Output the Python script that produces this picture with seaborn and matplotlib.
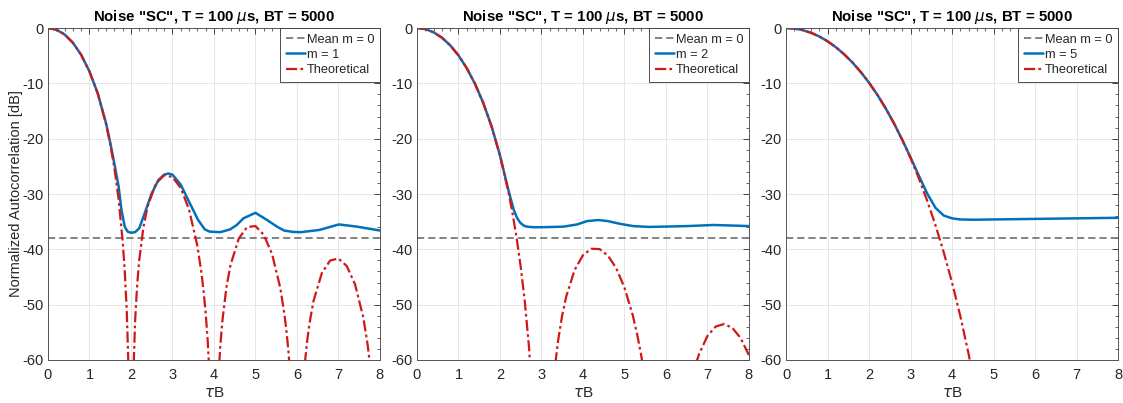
import matplotlib
matplotlib.use("Agg")
import matplotlib.pyplot as plt
import seaborn as sns
import numpy as np
from matplotlib.ticker import AutoMinorLocator, MultipleLocator

# ---------------- data ----------------
titles = ['Noise "SC", T = 100 $\\mu$s, BT = 5000'] * 3
m_labels = ["m = 1", "m = 2", "m = 5"]
mean_label = "Mean m = 0"
theo_label = "Theoretical"

mean_x = [0.0, 8.0]
mean_y = [-38.0, -38.0]

# panel 1 : m = 1
th1_x = [0, 0.2, 0.4, 0.6, 0.8, 1.0, 1.2, 1.4, 1.5, 1.6, 1.7, 1.8, 1.85, 1.9, 1.95, 2.0,
         2.05, 2.1, 2.15, 2.2, 2.3, 2.4, 2.6, 2.8, 3.0, 3.2, 3.4, 3.6, 3.7, 3.75, 3.8, 3.85,
         3.9, 4.0, 4.1, 4.15, 4.2, 4.3, 4.4, 4.6, 4.8, 5.0, 5.2, 5.4, 5.6, 5.7, 5.75, 5.8,
         5.9, 6.0, 6.1, 6.2, 6.25, 6.3, 6.4, 6.6, 6.8, 7.0, 7.2, 7.4, 7.6, 7.7, 7.75, 7.8,
         7.9, 8.0]
th1_y = [0, -0.29, -1.16, -2.65, -4.84, -7.85, -11.88, -17.37, -20.91, -25.24, -30.78,
         -38.46, -43.80, -51.22, -63.66, -90, -64.53, -52.96, -46.41, -41.94, -36.03,
         -32.28, -28.13, -26.60, -26.93, -28.92, -32.79, -39.33, -44.29, -47.49, -51.44,
         -56.54, -63.71, -90, -64.58, -57.84, -53.18, -46.90, -42.81, -38.04, -35.97,
         -35.80, -37.36, -40.82, -47.00, -51.80, -54.92, -58.78, -70.9, -90, -71.5,
         -59.94, -56.37, -53.54, -49.32, -44.31, -42.02, -41.65, -43.01, -46.30, -52.31,
         -57.02, -60.10, -63.93, -75.98, -90]
b1_x = [0, 0.2, 0.4, 0.6, 0.8, 1.0, 1.2, 1.4, 1.5, 1.6, 1.7, 1.77, 1.85, 1.92, 2.0, 2.1,
        2.2, 2.33, 2.5, 2.66, 2.8, 2.9, 3.0, 3.2, 3.4, 3.62, 3.78, 3.9, 4.15, 4.39, 4.55,
        4.71, 5.0, 5.28, 5.52, 5.69, 5.9, 6.09, 6.54, 7.01, 7.45, 8.0]
b1_y = [0, -0.29, -1.16, -2.65, -4.84, -7.85, -11.8, -17.2, -20.7, -24.5, -28.5, -32.8,
        -35.9, -36.8, -37.0, -36.9, -36.2, -33.5, -29.9, -27.5, -26.5, -26.3, -26.5,
        -28.3, -31.4, -34.7, -36.4, -36.8, -36.9, -36.4, -35.6, -34.4, -33.4, -34.7,
        -35.9, -36.6, -36.85, -36.9, -36.5, -35.5, -35.9, -36.6]

# panel 2 : m = 2
th2_x = [0, 0.2, 0.4, 0.6, 0.8, 1.0, 1.2, 1.4, 1.6, 1.8, 2.0, 2.2, 2.3, 2.4, 2.5, 2.6,
         2.7, 2.8, 2.9, 3.0, 3.1, 3.2, 3.3, 3.4, 3.5, 3.6, 3.8, 4.0, 4.2, 4.4, 4.6, 4.8,
         5.0, 5.2, 5.3, 5.4, 5.5, 5.6, 5.8, 6.0, 6.2, 6.4, 6.6, 6.7, 6.8, 7.0, 7.2, 7.4,
         7.6, 7.8, 8.0]
th2_y = [0, -0.19, -0.77, -1.74, -3.12, -4.95, -7.26, -10.11, -13.59, -17.83, -23.01,
         -29.48, -33.37, -37.86, -43.14, -49.54, -57.68, -68.96, -87.8, -100, -89.5,
         -72.44, -62.91, -56.53, -51.91, -48.43, -43.72, -41.07, -39.90, -39.95, -41.11,
         -43.38, -46.89, -51.90, -55.13, -58.99, -63.69, -69.53, -87.9, -100, -89.7,
         -73.01, -64.22, -61.24, -58.89, -55.66, -53.95, -53.50, -54.19, -56.04, -59.14]
b2_x = [0, 0.2, 0.4, 0.6, 0.8, 1.0, 1.2, 1.4, 1.6, 1.8, 2.0, 2.2, 2.33, 2.41, 2.49,
        2.57, 2.65, 2.8, 3.0, 3.3, 3.53, 3.86, 4.1, 4.37, 4.6, 4.9, 5.21, 5.6, 5.93, 6.5,
        7.14, 7.6, 8.0]
b2_y = [0, -0.19, -0.77, -1.74, -3.12, -4.95, -7.26, -10.11, -13.59, -17.83, -23.0,
        -29.2, -32.8, -34.3, -35.2, -35.7, -35.9, -36.0, -36.0, -35.95, -35.9, -35.5,
        -34.9, -34.7, -34.9, -35.4, -35.8, -35.95, -35.9, -35.8, -35.6, -35.7, -35.8]

# panel 3 : m = 5
th3_x = [0, 0.2, 0.4, 0.6, 0.8, 1.0, 1.2, 1.4, 1.6, 1.8, 2.0, 2.2, 2.4, 2.6, 2.8, 3.0,
         3.2, 3.4, 3.6, 3.8, 4.0, 4.2, 4.4, 4.6, 4.8]
th3_y = [0, -0.095, -0.38, -0.86, -1.53, -2.40, -3.48, -4.75, -6.24, -7.96, -9.90,
         -12.08, -14.52, -17.23, -20.22, -23.53, -27.18, -31.21, -35.65, -40.57, -46.02,
         -52.12, -58.96, -66.75, -75.7]
b3_x = [0, 0.2, 0.4, 0.6, 0.8, 1.0, 1.2, 1.4, 1.6, 1.8, 2.0, 2.2, 2.4, 2.6, 2.8, 3.0,
        3.2, 3.4, 3.6, 3.8, 4.0, 4.2, 4.5, 5.0, 6.0, 7.0, 8.0]
b3_y = [0, -0.095, -0.38, -0.86, -1.53, -2.40, -3.48, -4.75, -6.24, -7.96, -9.90,
        -12.08, -14.52, -17.23, -20.22, -23.4, -26.7, -29.9, -32.5, -33.9, -34.4, -34.6,
        -34.65, -34.6, -34.5, -34.4, -34.3]

x_ticks = [0, 1, 2, 3, 4, 5, 6, 7, 8]
y_ticks = [0, -10, -20, -30, -40, -50, -60]

panels = [(th1_x, th1_y, b1_x, b1_y), (th2_x, th2_y, b2_x, b2_y), (th3_x, th3_y, b3_x, b3_y)]

# ---------------- style ----------------
sns.set_theme(style="whitegrid")
plt.rcParams["font.family"] = ["Liberation Sans", "DejaVu Sans"]
plt.rcParams["axes.unicode_minus"] = False
plt.rcParams["mathtext.fontset"] = "dejavusans"

BLUE = "#0072BD"
RED = "#D01818"
GRAY = "#7a7a7a"
AXC = "#262626"

fig = plt.figure(figsize=(11.23, 4.03), dpi=100)
lefts = [0.0427, 0.3713, 0.7000]
for i, (tx, ty, bx, by) in enumerate(panels):
    ax = fig.add_axes([lefts[i], 0.1067, 0.2956, 0.8238])
    sns.lineplot(x=mean_x, y=mean_y, ax=ax, color=GRAY, linestyle=(0, (4, 2.2)),
                 linewidth=1.3, label=mean_label, estimator=None, sort=False)
    sns.lineplot(x=bx, y=by, ax=ax, color=BLUE, linewidth=1.8, label=m_labels[i],
                 estimator=None, sort=False)
    sns.lineplot(x=tx, y=ty, ax=ax, color=RED, linestyle=(0, (5, 1.5, 1.2, 1.5)),
                 linewidth=1.6, label=theo_label, estimator=None, sort=False)
    ax.set_xlim(0, 8)
    ax.set_ylim(-60, 0)
    ax.set_xticks(x_ticks)
    ax.set_yticks(y_ticks)
    ax.xaxis.set_minor_locator(MultipleLocator(0.2))
    ax.yaxis.set_minor_locator(MultipleLocator(2))
    ax.tick_params(which="both", direction="in", top=True, right=True, colors=AXC,
                   labelsize=10.5, labelcolor=AXC)
    ax.tick_params(which="major", length=4, width=0.6)
    ax.tick_params(which="minor", length=2, width=0.5)
    ax.tick_params(axis="x", pad=6)
    ax.tick_params(axis="y", pad=3)
    ax.grid(True, which="major", color="#e6e6e6", linewidth=0.7)
    ax.grid(False, which="minor")
    for s in ax.spines.values():
        s.set_color("#555555")
        s.set_linewidth(0.7)
    ax.set_title(titles[i], fontsize=10.8, fontweight="bold", color="black", pad=5)
    ax.set_xlabel("$\\tau$B", fontsize=11, color=AXC, labelpad=3)
    if i == 0:
        ax.set_ylabel("Normalized Autocorrelation [dB]", fontsize=10.5, color=AXC)
        ax.yaxis.set_label_coords(-0.075, 0.5)
    else:
        ax.set_ylabel("")
    leg = ax.legend(loc="upper right", fontsize=9.2, frameon=True, fancybox=False,
                    framealpha=1, edgecolor="#333333", borderpad=0.45,
                    labelspacing=0.25, handlelength=1.5, handletextpad=0.15,
                    borderaxespad=0.0)
    leg.get_frame().set_linewidth(0.6)

fig.savefig("out.png", dpi=100)
